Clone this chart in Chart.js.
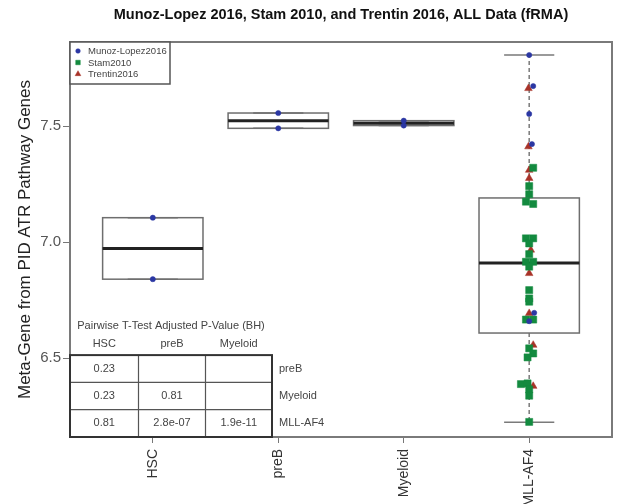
<!DOCTYPE html>
<html>
<head>
<meta charset="utf-8">
<script src="https://cdn.jsdelivr.net/npm/chart.js@4/dist/chart.umd.min.js"></script>
<style>
  html, body { margin: 0; padding: 0; background: #fff; }
  #wrap { width: 618px; height: 504px; }
</style>
</head>
<body>
<div id="wrap"><canvas id="c" width="618" height="504"></canvas></div>
<script>
// ---- data ----
const categories = ['HSC', 'preB', 'Myeloid', 'MLL-AF4'];

// box summaries per group: lower whisker, Q1, median, Q3, upper whisker
const boxLow  = [6.840, 7.490, 7.502, 6.224];
const boxQ1   = [6.840, 7.490, 7.502, 6.608];
const boxMed  = [6.972, 7.523, 7.512, 6.910];
const boxQ3   = [7.105, 7.556, 7.523, 7.190];
const boxHigh = [7.105, 7.556, 7.523, 7.806];

// Munoz-Lopez 2016 samples
const munozGroup  = [1, 1, 2, 2, 3, 3, 4, 4, 4, 4, 4, 4];
const munozValue  = [7.105, 6.840, 7.556, 7.490, 7.523, 7.502, 7.806, 7.672, 7.552, 7.422, 6.695, 6.659];
const munozJitter = [0, 0, 0, 0, 0, 0, 0, 0.032, 0, 0.022, 0.04, 0];

// Stam 2010 samples (all MLL-AF4)
const stamValue  = [7.320, 7.241, 7.206, 7.174, 7.164, 7.016, 7.016, 6.994, 6.948, 6.915, 6.915, 6.894,
                    6.793, 6.757, 6.743, 6.666, 6.666, 6.542, 6.520, 6.503, 6.391, 6.388, 6.365, 6.338, 6.225];
const stamJitter = [0.032, 0, 0, -0.026, 0.032, -0.026, 0.032, 0, 0, -0.026, 0.032, 0,
                    0, 0, 0, -0.026, 0.032, 0, 0.032, -0.013, -0.013, -0.066, 0, 0, 0];

// Trentin 2016 samples (all MLL-AF4)
const trentinValue  = [7.662, 7.411, 7.310, 7.275, 6.966, 6.865, 6.693, 6.556, 6.379];
const trentinJitter = [-0.006, -0.006, 0, 0, 0.013, 0, 0, 0.032, 0.032];

const yTicks = [6.5, 7.0, 7.5];

// pairwise t-test table
const pairCols = ['HSC', 'preB', 'Myeloid'];
const pairRows = ['preB', 'Myeloid', 'MLL-AF4'];
const pairP = [
  ['0.23', '', ''],
  ['0.23', '0.81', ''],
  ['0.81', '2.8e-07', '1.9e-11']
];

const mainTitle = 'Munoz-Lopez 2016, Stam 2010, and Trentin 2016, ALL Data (fRMA)';
const yTitle = 'Meta-Gene from PID ATR Pathway Genes';
const tableTitle = 'Pairwise T-Test Adjusted P-Value (BH)';

const FONT = '"Liberation Sans", Arial, Helvetica, sans-serif';
const COL_BLUE = '#2b37a3';
const COL_GREEN = '#138a3f';
const COL_RED = '#a83228';

const mll = categories.indexOf('MLL-AF4') + 1;

const munozPts = munozValue.map((v, i) => ({ x: munozGroup[i] + munozJitter[i], y: v }));
const stamPts = stamValue.map((v, i) => ({ x: mll + stamJitter[i], y: v }));
const trentinPts = trentinValue.map((v, i) => ({ x: mll + trentinJitter[i], y: v }));

// ---- box plots, drawn under the points ----
const boxPlugin = {
  id: 'boxes',
  beforeDatasetsDraw(chart) {
    const { ctx, scales: { x, y } } = chart;
    ctx.save();
    categories.forEach((c, i) => {
      const g = i + 1;
      const xl = x.getPixelForValue(g - 0.4), xr = x.getPixelForValue(g + 0.4);
      const cl = x.getPixelForValue(g - 0.2), cr = x.getPixelForValue(g + 0.2);
      const xc = x.getPixelForValue(g);
      const yLo = y.getPixelForValue(boxLow[i]), yQ1 = y.getPixelForValue(boxQ1[i]);
      const yMd = y.getPixelForValue(boxMed[i]), yQ3 = y.getPixelForValue(boxQ3[i]);
      const yHi = y.getPixelForValue(boxHigh[i]);
      // whiskers
      ctx.strokeStyle = '#7a7a7a';
      ctx.lineWidth = 1.5;
      ctx.setLineDash([4, 3]);
      ctx.beginPath();
      if (yHi < yQ3 - 0.5) { ctx.moveTo(xc, yQ3); ctx.lineTo(xc, yHi); }
      if (yLo > yQ1 + 0.5) { ctx.moveTo(xc, yQ1); ctx.lineTo(xc, yLo); }
      ctx.stroke();
      ctx.setLineDash([]);
      ctx.beginPath();
      ctx.moveTo(cl, yHi); ctx.lineTo(cr, yHi);
      ctx.moveTo(cl, yLo); ctx.lineTo(cr, yLo);
      ctx.stroke();
      // box
      ctx.strokeStyle = '#6e6e6e';
      ctx.lineWidth = 1.5;
      ctx.strokeRect(xl, yQ3, xr - xl, yQ1 - yQ3);
      // median
      ctx.strokeStyle = '#222';
      ctx.lineWidth = 3;
      ctx.beginPath();
      ctx.moveTo(xl, yMd); ctx.lineTo(xr, yMd);
      ctx.stroke();
    });
    ctx.restore();
  }
};

// ---- frame, title, legend and p-value table ----
const decorPlugin = {
  id: 'decor',
  afterDraw(chart) {
    const { ctx, chartArea: a } = chart;
    ctx.save();
    // frame
    ctx.strokeStyle = '#7a7a7a';
    ctx.lineWidth = 2;
    ctx.strokeRect(a.left, a.top, a.right - a.left, a.bottom - a.top);

    // main title
    ctx.fillStyle = '#111';
    ctx.font = 'bold 14.5px ' + FONT;
    ctx.textAlign = 'center';
    ctx.textBaseline = 'middle';
    ctx.fillText(mainTitle, (a.left + a.right) / 2, 15);

    // legend
    const lgW = 100, lgH = 42;
    ctx.fillStyle = '#fff';
    ctx.fillRect(a.left, a.top, lgW, lgH);
    ctx.strokeStyle = '#555';
    ctx.lineWidth = 1.5;
    ctx.strokeRect(a.left, a.top, lgW, lgH);
    const items = [
      { label: 'Munoz-Lopez2016', style: 'circle', color: COL_BLUE, r: 2.3 },
      { label: 'Stam2010', style: 'rect', color: COL_GREEN, r: 3.2 },
      { label: 'Trentin2016', style: 'triangle', color: COL_RED, r: 3.3 }
    ];
    ctx.font = '9.5px ' + FONT;
    ctx.textAlign = 'left';
    items.forEach((it, k) => {
      const yy = a.top + 9 + k * 11.5;
      ctx.fillStyle = it.color;
      ctx.strokeStyle = it.color;
      ctx.lineWidth = 0.5;
      Chart.helpers.drawPoint(ctx, { pointStyle: it.style, radius: it.r, borderWidth: 0.5, rotation: 0 }, a.left + 8, yy);
      ctx.fillStyle = '#444';
      ctx.fillText(it.label, a.left + 18, yy + 0.5);
    });

    // p-value table
    const colX = [a.left, a.left + 68.5, a.left + 135.5, a.left + 202];
    const rowH = 27.3;
    const tBottom = a.bottom;
    const tTop = tBottom - rowH * pairRows.length;
    ctx.fillStyle = '#444';
    ctx.font = '11px ' + FONT;
    ctx.textAlign = 'center';
    ctx.fillText(tableTitle, (colX[0] + colX[3]) / 2, tTop - 29);
    pairCols.forEach((c, j) => ctx.fillText(c, (colX[j] + colX[j + 1]) / 2, tTop - 11));
    pairRows.forEach((r, i) => {
      const yc = tTop + rowH * (i + 0.5);
      pairP[i].forEach((p, j) => {
        if (p) ctx.fillText(p, (colX[j] + colX[j + 1]) / 2, yc);
      });
      ctx.textAlign = 'left';
      ctx.fillText(r, colX[3] + 7, yc);
      ctx.textAlign = 'center';
    });
    ctx.strokeStyle = '#555';
    ctx.lineWidth = 1.2;
    ctx.beginPath();
    for (let i = 1; i < pairRows.length; i++) {
      const yy = tTop + rowH * i;
      ctx.moveTo(colX[0], yy); ctx.lineTo(colX[3], yy);
    }
    for (let j = 1; j < 3; j++) {
      ctx.moveTo(colX[j], tTop); ctx.lineTo(colX[j], tBottom);
    }
    ctx.stroke();
    ctx.strokeStyle = '#333';
    ctx.lineWidth = 2;
    ctx.strokeRect(colX[0], tTop, colX[3] - colX[0], tBottom - tTop);
    ctx.restore();
  }
};

new Chart(document.getElementById('c'), {
  type: 'scatter',
  data: {
    datasets: [
      { label: 'Munoz-Lopez2016', data: munozPts, pointStyle: 'circle', pointRadius: 2.6,
        backgroundColor: COL_BLUE, borderColor: COL_BLUE, borderWidth: 0.5 },
      { label: 'Stam2010', data: stamPts, pointStyle: 'rect', pointRadius: 5,
        backgroundColor: COL_GREEN, borderColor: COL_GREEN, borderWidth: 0.5 },
      { label: 'Trentin2016', data: trentinPts, pointStyle: 'triangle', pointRadius: 4.4,
        backgroundColor: COL_RED, borderColor: COL_RED, borderWidth: 0.5 }
    ]
  },
  options: {
    responsive: false,
    animation: false,
    devicePixelRatio: 1,
    layout: { padding: { top: 42, right: 6, left: 0, bottom: 0 } },
    plugins: {
      legend: { display: false },
      title: { display: false },
      tooltip: { enabled: false }
    },
    scales: {
      x: {
        type: 'linear',
        min: 0.34,
        max: 4.66,
        afterFit(s) { s.height = 67; },
        afterBuildTicks(s) { s.ticks = categories.map((c, i) => ({ value: i + 1 })); },
        ticks: {
          callback: (v) => categories[Math.round(v) - 1],
          autoSkip: false,
          maxRotation: 90,
          minRotation: 90,
          padding: 6,
          color: '#333',
          font: { family: FONT, size: 14 }
        },
        grid: { drawOnChartArea: false, tickLength: 6, color: '#777', lineWidth: 1 },
        border: { display: false }
      },
      y: {
        type: 'linear',
        min: 6.16,
        max: 7.862,
        afterFit(s) { s.width = 70; },
        afterBuildTicks(s) { s.ticks = yTicks.map(v => ({ value: v })); },
        ticks: {
          callback: (v) => v.toFixed(1),
          padding: 2,
          color: '#555',
          font: { family: FONT, size: 15 }
        },
        grid: { drawOnChartArea: false, tickLength: 7, color: '#777', lineWidth: 1 },
        border: { display: false },
        title: {
          display: true,
          text: yTitle,
          color: '#222',
          font: { family: FONT, size: 17 },
          padding: { top: 15, bottom: 0 }
        }
      }
    }
  },
  plugins: [boxPlugin, decorPlugin]
});
</script>
</body>
</html>
